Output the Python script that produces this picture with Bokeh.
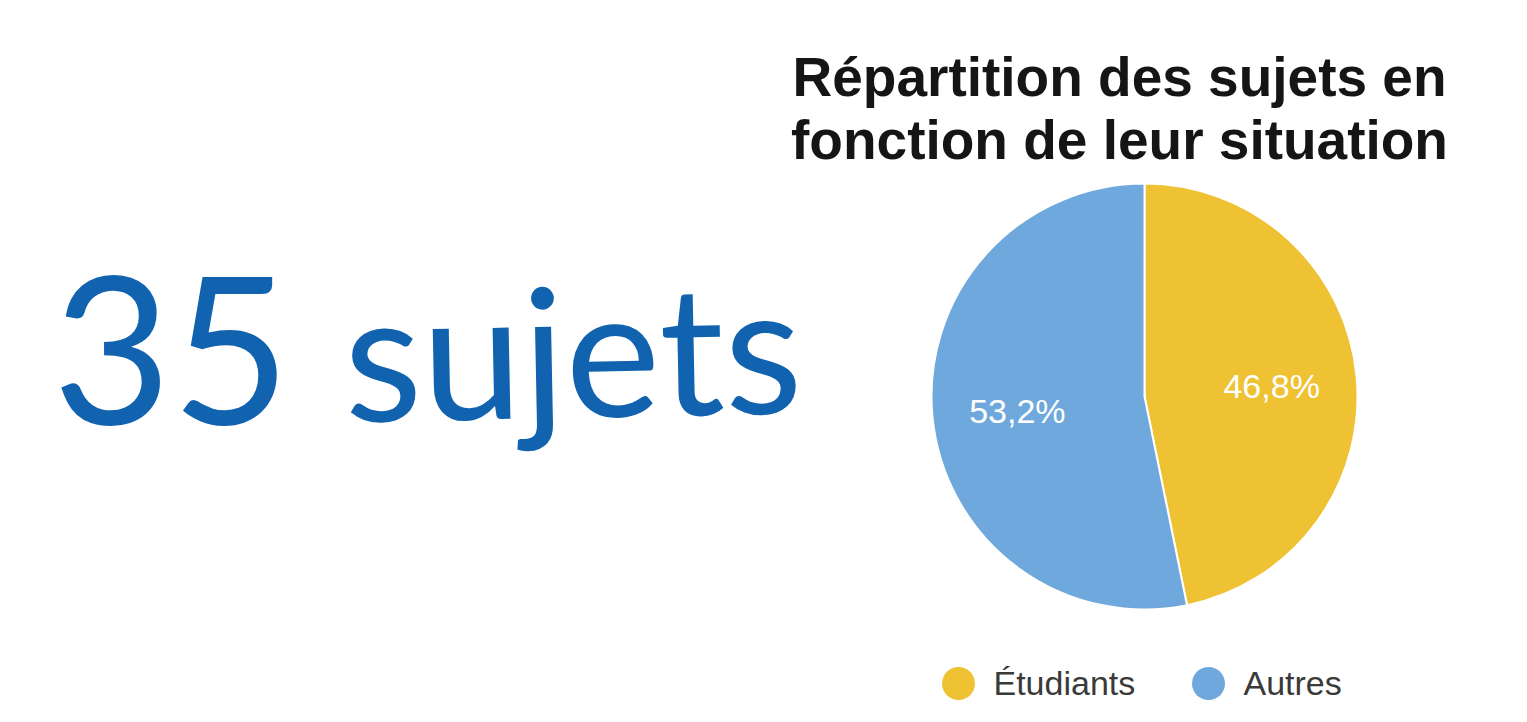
import numpy as np
from bokeh.plotting import figure
from bokeh.models import Range1d, ColumnDataSource
from bokeh.core.properties import value
from bokeh.embed import file_html
from bokeh.resources import INLINE

# ---- data ----
categories = ["Étudiants", "Autres"]
percents = [46.8, 53.2]
pct_labels = ["46,8%", "53,2%"]
colors = ["#EFC233", "#6FA8DC"]
title_lines = ["Répartition des sujets en", "fonction de leur situation"]
big_number = "35"
big_word = "sujets"

W, H = 1510, 705
PAGE_H = 722
BASE_FIX = 0.38  # em correction for alphabetic baseline


def Y(py):
    return PAGE_H - py


def YB(py, size):
    # desired alphabetic baseline at page pixel py for a font of `size` px
    return PAGE_H - (py - BASE_FIX * size)


p = figure(width=W, height=H, output_backend="svg", toolbar_location=None,
           x_axis_type=None, y_axis_type=None,
           x_range=Range1d(0, W), y_range=Range1d(PAGE_H - H, PAGE_H),
           min_border=0, outline_line_color=None)
p.grid.visible = False
p.background_fill_color = "white"

# ---- big text ----
blue = "#1263AF"
p.text(x=[52], y=[YB(427, 205)], text=[big_number], text_font=value("Lato"),
       text_font_size="205px", text_color=blue, text_align="left",
       text_baseline="alphabetic")
p.text(x=[343], y=[YB(420, 180)], text=[big_word], text_font=value("Lato"),
       text_font_size="180px", text_color=blue, text_align="left",
       text_baseline="alphabetic", angle=0.02)

# ---- title ----
for line, py in zip(title_lines, [97, 160]):
    p.text(x=[1119], y=[YB(py, 55)], text=[line], text_font=value("Liberation Sans"),
           text_font_style="bold", text_font_size="55px", text_color="#151515",
           text_align="center", text_baseline="alphabetic")

# ---- pie ----
cx, cy, R = 1144, Y(396), 213
frac = np.array(percents) / sum(percents)
cum = np.concatenate([[0], np.cumsum(frac)]) * 2 * np.pi
start = np.pi / 2 - cum[1:]
end = np.pi / 2 - cum[:-1]
mid = (start + end) / 2
src = ColumnDataSource(dict(cat=categories, start=start, end=end, color=colors,
                            lab=pct_labels,
                            lx=cx + 0.6 * R * np.cos(mid),
                            ly=cy + 0.6 * R * np.sin(mid) - 2))
p.wedge(x=cx, y=cy, radius=R, start_angle="start", end_angle="end",
        fill_color="color", line_color="white", line_width=2, source=src)
p.text(x="lx", y="ly", text="lab", source=src, text_font=value("Liberation Sans"),
       text_font_size="34px", text_color="white", text_align="center",
       text_baseline="middle")

# ---- legend ----
leg_x = [958, 1208]
p.scatter(x=leg_x, y=[Y(683)] * 2, size=33, marker="circle", fill_color=colors,
          line_color=None)
p.text(x=[x + 35 for x in leg_x], y=[YB(695, 34)] * 2, text=categories,
       text_font=value("Liberation Sans"), text_font_size="34px",
       text_color="#3a3a3a", text_align="left", text_baseline="alphabetic")

open("out.html", "w").write(file_html(p, INLINE))
